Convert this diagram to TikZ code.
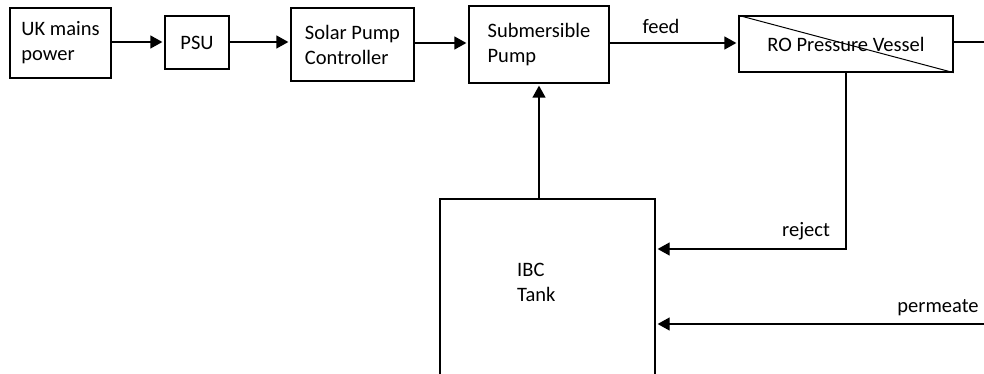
\documentclass[tikz,border=0pt]{standalone}
\usepackage{fontspec}
\setmainfont{Carlito}
\usetikzlibrary{arrows.meta}
\begin{document}
\begin{tikzpicture}[x=1pt,y=-1pt,
  box/.style={draw, line width=1.3pt, inner sep=0pt, align=left, font=\fontsize{20.5}{25}\selectfont},
  arr/.style={line width=1.3pt, -{Triangle[length=12pt,width=13pt]}, shorten >=2pt},
  wire/.style={line width=1.3pt},
  lbl/.style={font=\fontsize{20.5}{25}\selectfont, inner sep=0pt}]
\clip (0,0) rectangle (984,374);
\node[box, minimum width=101pt, minimum height=70pt] (uk) at (60.5,43) {UK mains\\power};
\node[box, minimum width=64pt, minimum height=53pt] (psu) at (197,42.5) {PSU};
\node[box, minimum width=123pt, minimum height=73pt] (spc) at (352.5,44.5) {Solar Pump\\Controller};
\node[box, minimum width=140pt, minimum height=77pt] (sp) at (539,44.5) {Submersible\\Pump};
\node[box, minimum width=214pt, minimum height=56pt] (ro) at (846,44) {RO Pressure Vessel};
\draw[line width=1pt] (ro.north west) -- (ro.south east);
\node[box, minimum width=215pt, minimum height=182pt] (ibc) at (547.5,290) {};
\node[lbl, anchor=west, align=left] (ibctxt) at (517,282) {IBC\\Tank};

\coordinate (out) at (984,42);
\coordinate (rj) at (846,249);
\coordinate (pin) at (984,324);

\draw[arr] (uk.east |- 0,42) -- (psu.west |- 0,42);
\draw[arr] (psu.east |- 0,42) -- (spc.west |- 0,42);
\draw[arr] (spc.east |- 0,43) -- (sp.west |- 0,43);
\draw[arr] (sp.east |- 0,43) -- (ro.west |- 0,43);
\draw[wire] (ro.east |- out) -- (out);
\draw[arr] (sp.south |- ibc.north) -- (sp.south);
\draw[arr] (ro.south) -- (ro.south |- rj) -- (rj -| ibc.east);
\draw[arr] (pin) -- (pin -| ibc.east);

\node[lbl] (feed) at (661,26) {feed};
\node[lbl] (reject) at (806,231) {reject};
\node[lbl] (permeate) at (938,308) {permeate};
\end{tikzpicture}
\end{document}
